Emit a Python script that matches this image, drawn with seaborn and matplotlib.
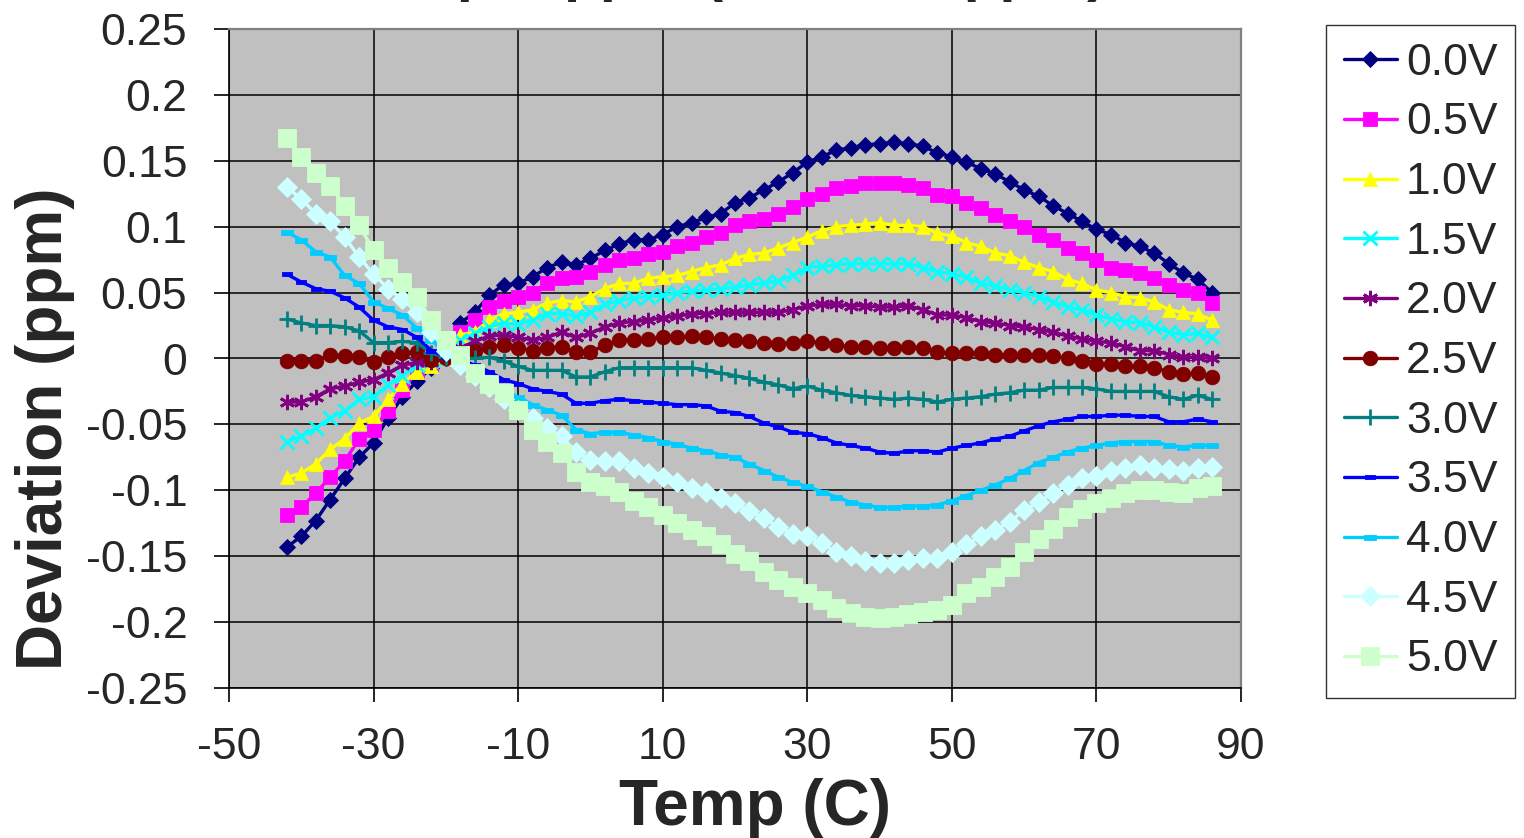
import matplotlib
matplotlib.use('Agg')
import matplotlib.pyplot as plt
import seaborn as sns
from matplotlib.ticker import FuncFormatter

# --- Data ---
temps = [-42, -40, -38, -36, -34, -32, -30, -28, -26, -24, -22, -20,
         -18, -16, -14, -12, -10, -8, -6, -4, -2, 0, 2, 4, 6, 8,
         10, 12, 14, 16, 18, 20, 22, 24, 26, 28, 30, 32, 34, 36, 38,
         40, 42, 44, 46, 48, 50, 52, 54, 56, 58, 60, 62, 64, 66, 68,
         70, 72, 74, 76, 78, 80, 82, 84, 86]

v_0_0 = [-0.143, -0.135, -0.123, -0.107, -0.091, -0.075, -0.064, -0.045, -0.029, -0.017, -0.007, 0.000,
         0.027, 0.035, 0.048, 0.056, 0.057, 0.062, 0.069, 0.073, 0.071, 0.076, 0.082, 0.087, 0.090, 0.090,
         0.094, 0.100, 0.103, 0.107, 0.110, 0.118, 0.122, 0.128, 0.134, 0.141, 0.149, 0.153, 0.158, 0.160, 0.162,
         0.163, 0.164, 0.163, 0.161, 0.156, 0.153, 0.149, 0.144, 0.140, 0.134, 0.128, 0.123, 0.116, 0.110, 0.104,
         0.098, 0.094, 0.088, 0.085, 0.080, 0.072, 0.065, 0.060, 0.050]
v_0_5 = [-0.119, -0.113, -0.102, -0.090, -0.078, -0.061, -0.054, -0.040, -0.024, -0.010, -0.004, 0.000,
         0.020, 0.029, 0.039, 0.044, 0.047, 0.050, 0.057, 0.061, 0.062, 0.066, 0.071, 0.075, 0.076, 0.079,
         0.081, 0.085, 0.088, 0.092, 0.095, 0.101, 0.104, 0.106, 0.110, 0.115, 0.121, 0.125, 0.129, 0.131, 0.133,
         0.133, 0.133, 0.132, 0.129, 0.124, 0.123, 0.118, 0.114, 0.109, 0.104, 0.100, 0.094, 0.090, 0.084, 0.080,
         0.075, 0.069, 0.067, 0.065, 0.061, 0.056, 0.052, 0.050, 0.042]
v_1_0 = [-0.090, -0.087, -0.080, -0.069, -0.061, -0.049, -0.044, -0.031, -0.019, -0.010, -0.006, 0.000,
         0.018, 0.020, 0.029, 0.034, 0.035, 0.037, 0.042, 0.044, 0.043, 0.047, 0.053, 0.057, 0.057, 0.061,
         0.062, 0.063, 0.066, 0.069, 0.071, 0.076, 0.079, 0.080, 0.084, 0.088, 0.092, 0.097, 0.100, 0.101, 0.102,
         0.103, 0.101, 0.101, 0.100, 0.095, 0.093, 0.088, 0.085, 0.080, 0.078, 0.073, 0.069, 0.066, 0.060, 0.057,
         0.052, 0.050, 0.047, 0.046, 0.043, 0.037, 0.035, 0.034, 0.029]
v_1_5 = [-0.063, -0.059, -0.053, -0.045, -0.040, -0.031, -0.029, -0.020, -0.013, -0.005, -0.002, 0.000,
         0.014, 0.019, 0.024, 0.027, 0.026, 0.029, 0.034, 0.034, 0.032, 0.035, 0.041, 0.044, 0.046, 0.047,
         0.048, 0.050, 0.051, 0.052, 0.053, 0.054, 0.056, 0.057, 0.059, 0.063, 0.069, 0.070, 0.071, 0.072, 0.072,
         0.072, 0.072, 0.072, 0.069, 0.066, 0.064, 0.062, 0.057, 0.055, 0.052, 0.050, 0.047, 0.043, 0.039, 0.037,
         0.033, 0.030, 0.028, 0.027, 0.024, 0.020, 0.018, 0.019, 0.016]
v_2_0 = [-0.033, -0.033, -0.029, -0.023, -0.021, -0.018, -0.016, -0.011, -0.005, -0.003, -0.003, 0.000,
         0.008, 0.013, 0.017, 0.018, 0.016, 0.014, 0.016, 0.020, 0.016, 0.019, 0.024, 0.027, 0.028, 0.029,
         0.031, 0.032, 0.034, 0.034, 0.035, 0.035, 0.035, 0.035, 0.035, 0.037, 0.040, 0.041, 0.041, 0.040, 0.040,
         0.039, 0.039, 0.040, 0.037, 0.033, 0.033, 0.031, 0.028, 0.027, 0.025, 0.024, 0.022, 0.020, 0.017, 0.015,
         0.013, 0.012, 0.009, 0.006, 0.006, 0.003, 0.001, 0.001, 0.000]
v_2_5 = [-0.002, -0.002, -0.002, 0.003, 0.002, 0.001, -0.003, 0.001, 0.004, 0.005, -0.001, 0.000,
         0.004, 0.006, 0.009, 0.010, 0.008, 0.006, 0.008, 0.009, 0.005, 0.005, 0.010, 0.014, 0.014, 0.015,
         0.016, 0.016, 0.017, 0.016, 0.015, 0.014, 0.013, 0.012, 0.011, 0.012, 0.013, 0.012, 0.010, 0.009, 0.009,
         0.008, 0.008, 0.009, 0.008, 0.005, 0.004, 0.004, 0.004, 0.003, 0.003, 0.003, 0.003, 0.002, 0.000, -0.002,
         -0.004, -0.004, -0.006, -0.006, -0.007, -0.010, -0.012, -0.011, -0.014]
v_3_0 = [0.030, 0.027, 0.025, 0.025, 0.024, 0.021, 0.012, 0.012, 0.013, 0.012, 0.004, 0.001,
         0.000, 0.000, 0.001, -0.002, -0.006, -0.009, -0.009, -0.009, -0.014, -0.014, -0.010, -0.007, -0.007, -0.007,
         -0.007, -0.007, -0.007, -0.009, -0.011, -0.013, -0.015, -0.018, -0.020, -0.023, -0.021, -0.024, -0.026, -0.028, -0.029,
         -0.030, -0.031, -0.030, -0.031, -0.033, -0.031, -0.030, -0.029, -0.027, -0.026, -0.024, -0.024, -0.022, -0.022, -0.022,
         -0.023, -0.025, -0.025, -0.025, -0.025, -0.029, -0.031, -0.028, -0.031]
v_3_5 = [0.064, 0.058, 0.053, 0.051, 0.046, 0.039, 0.029, 0.024, 0.022, 0.016, 0.006, 0.001,
         -0.001, -0.005, -0.010, -0.016, -0.019, -0.023, -0.025, -0.027, -0.034, -0.034, -0.032, -0.031, -0.032, -0.033,
         -0.034, -0.035, -0.035, -0.036, -0.040, -0.041, -0.044, -0.049, -0.052, -0.056, -0.057, -0.060, -0.064, -0.066, -0.068,
         -0.071, -0.072, -0.070, -0.070, -0.071, -0.068, -0.066, -0.064, -0.061, -0.059, -0.055, -0.051, -0.048, -0.046, -0.044,
         -0.044, -0.043, -0.043, -0.044, -0.044, -0.048, -0.048, -0.046, -0.048]
v_4_0 = [0.096, 0.090, 0.081, 0.077, 0.063, 0.057, 0.043, 0.038, 0.033, 0.023, 0.014, 0.004,
         -0.005, -0.012, -0.019, -0.025, -0.029, -0.035, -0.039, -0.043, -0.054, -0.057, -0.056, -0.056, -0.058, -0.060,
         -0.063, -0.065, -0.068, -0.070, -0.073, -0.075, -0.080, -0.085, -0.090, -0.094, -0.097, -0.101, -0.105, -0.109, -0.111,
         -0.113, -0.113, -0.112, -0.112, -0.111, -0.108, -0.104, -0.100, -0.096, -0.091, -0.085, -0.079, -0.075, -0.071, -0.068,
         -0.066, -0.064, -0.063, -0.063, -0.063, -0.066, -0.067, -0.066, -0.066]
v_4_5 = [0.130, 0.121, 0.110, 0.104, 0.092, 0.077, 0.064, 0.053, 0.045, 0.035, 0.020, 0.006,
         -0.005, -0.013, -0.022, -0.031, -0.039, -0.045, -0.053, -0.059, -0.071, -0.077, -0.078, -0.078, -0.083, -0.087,
         -0.090, -0.094, -0.098, -0.101, -0.106, -0.110, -0.116, -0.121, -0.128, -0.133, -0.135, -0.140, -0.147, -0.150, -0.154,
         -0.155, -0.155, -0.153, -0.151, -0.151, -0.147, -0.141, -0.135, -0.130, -0.124, -0.115, -0.109, -0.102, -0.096, -0.091,
         -0.089, -0.085, -0.083, -0.081, -0.083, -0.084, -0.085, -0.083, -0.082]
v_5_0 = [0.167, 0.153, 0.141, 0.131, 0.116, 0.101, 0.082, 0.069, 0.058, 0.047, 0.029, 0.014,
         0.003, -0.011, -0.019, -0.026, -0.039, -0.054, -0.063, -0.072, -0.086, -0.094, -0.097, -0.101, -0.108, -0.113,
         -0.119, -0.125, -0.130, -0.135, -0.141, -0.148, -0.154, -0.162, -0.168, -0.173, -0.178, -0.183, -0.189, -0.193, -0.196,
         -0.197, -0.196, -0.194, -0.192, -0.191, -0.187, -0.178, -0.173, -0.166, -0.158, -0.147, -0.137, -0.129, -0.120, -0.114,
         -0.110, -0.106, -0.102, -0.100, -0.100, -0.101, -0.102, -0.098, -0.097]

series_labels = ['0.0V', '0.5V', '1.0V', '1.5V', '2.0V', '2.5V',
                 '3.0V', '3.5V', '4.0V', '4.5V', '5.0V']
series_values = [v_0_0, v_0_5, v_1_0, v_1_5, v_2_0, v_2_5,
                 v_3_0, v_3_5, v_4_0, v_4_5, v_5_0]

x_ticks = [-50, -30, -10, 10, 30, 50, 70, 90]
y_ticks = [-0.25, -0.2, -0.15, -0.1, -0.05, 0, 0.05, 0.1, 0.15, 0.2, 0.25]

# --- Styling (Excel-like) ---
series_colors = ['#000080', '#FF00FF', '#FFFF00', '#00FFFF', '#800080', '#800000',
                 '#008080', '#0000FF', '#00CCFF', '#CCFFFF', '#CCFFCC']
dash = [(-1, -0.45), (1, -0.45), (1, 0.45), (-1, 0.45), (-1, -0.45)]
series_markers = ['D', 's', '^', 'x', (6, 2, 0), 'o', '+', dash, dash, 'D', 's']
marker_sizes = [8.5, 10.5, 10.5, 9.5, 11, 10.5, 11, 7, 8, 10, 13]
line_marks = ('x', '+')

sns.set_theme(style='white')
plt.rcParams['font.family'] = ['Liberation Sans', 'DejaVu Sans']
plt.rcParams['axes.unicode_minus'] = False
narrow = ['Liberation Sans Narrow', 'Liberation Sans', 'DejaVu Sans']

fig = plt.figure(figsize=(15.24, 8.38), dpi=100)
fig.patch.set_facecolor('white')
ax = fig.add_axes([229 / 1524, 1 - 688 / 838, 1012 / 1524, 659 / 838])
ax.set_facecolor('#C0C0C0')

for vals, label, color, mk, ms in zip(series_values, series_labels, series_colors,
                                       series_markers, marker_sizes):
    is_line_mark = isinstance(mk, tuple) or mk in line_marks
    sns.lineplot(x=temps, y=vals, ax=ax, color=color, linewidth=2.4,
                 marker=mk, markersize=ms, markerfacecolor=color,
                 markeredgecolor=color, markeredgewidth=2.0 if is_line_mark else 0.6,
                 label=label, legend=False, errorbar=None, sort=False)

ax.set_xlim(-50, 90)
ax.set_ylim(-0.25, 0.25)
ax.set_xticks(x_ticks)
ax.set_yticks(y_ticks)
ax.yaxis.set_major_formatter(FuncFormatter(lambda v, _: '%g' % v))
ax.set_axisbelow(True)
ax.grid(True, color='black', linewidth=1.1)

for side in ('top', 'right'):
    ax.spines[side].set_color('#808080')
    ax.spines[side].set_linewidth(1.6)
for side in ('left', 'bottom'):
    ax.spines[side].set_color('black')
    ax.spines[side].set_linewidth(1.2)

ax.tick_params(axis='y', direction='out', length=11, width=1.2, color='black',
               pad=19, labelsize=32, left=True)
ax.tick_params(axis='x', direction='out', length=10, width=1.2, color='black',
               pad=18, labelsize=32, bottom=True)
for lbl in ax.get_xticklabels():
    lbl.set_family(narrow)
ax.set_xlabel('')
ax.set_ylabel('')

fig.text(45 / 1524, 1 - 429 / 838, 'Deviation (ppm)', rotation=90, ha='center',
         va='center', fontsize=46, fontweight='bold')
fig.text(755 / 1524, 1 - 825 / 838, 'Temp (C)', ha='center', va='baseline',
         fontsize=46, fontweight='bold', family=narrow)
# chart title, cut off by the top edge as in the reference
fig.text(731 / 1524, 1 + 10.5 / 838, 'Output ppm (Relative ppm)', ha='center',
         va='baseline', fontsize=42, fontweight='bold', family=narrow)

handles, labels = ax.get_legend_handles_labels()
if ax.get_legend() is not None:
    ax.get_legend().remove()
leg = fig.legend(handles, labels, loc='upper left',
                 bbox_to_anchor=(1326 / 1524, 1 - 25 / 838), borderaxespad=0,
                 frameon=True, fancybox=False, edgecolor='black', fontsize=32,
                 handlelength=1.2, handletextpad=0.2, labelspacing=0.42,
                 borderpad=0.4, markerscale=1.0)
leg.get_frame().set_linewidth(1.0)
leg.get_frame().set_facecolor('white')

fig.savefig('out.png', dpi=100)
